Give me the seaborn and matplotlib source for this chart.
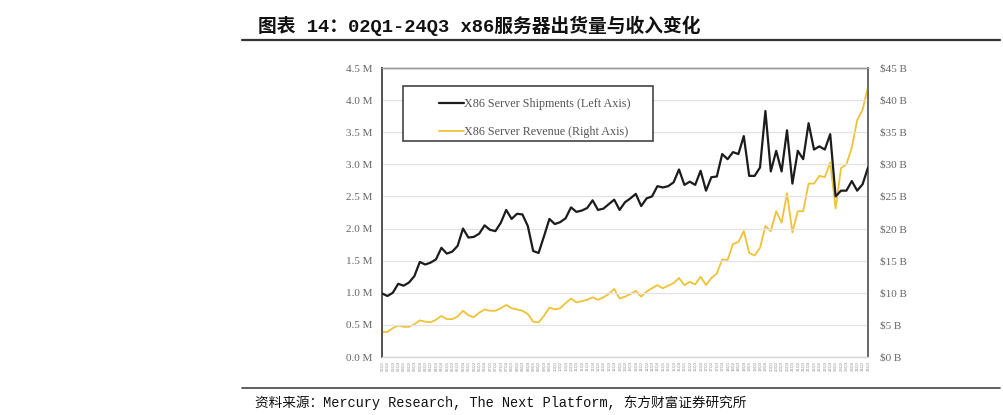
import numpy as np
import pandas as pd
import matplotlib
matplotlib.use("Agg")
import matplotlib.pyplot as plt
from matplotlib.patches import Rectangle
from matplotlib.lines import Line2D
import seaborn as sns

# ---- data ----
quarters = [f"{y:02d}Q{q}" for y in range(2, 25) for q in range(1, 5)][:91]
shipments_m = [0.99, 0.95, 1.00, 1.14, 1.11, 1.16, 1.26, 1.48, 1.44, 1.47,
               1.52, 1.70, 1.61, 1.64, 1.73, 2.00, 1.86, 1.87, 1.92, 2.05,
               1.98, 1.96, 2.09, 2.29, 2.15, 2.23, 2.22, 2.04, 1.65, 1.62,
               1.88, 2.15, 2.07, 2.10, 2.16, 2.33, 2.26, 2.28, 2.32, 2.44,
               2.29, 2.31, 2.38, 2.45, 2.29, 2.41, 2.47, 2.54, 2.35, 2.47,
               2.50, 2.66, 2.64, 2.66, 2.72, 2.92, 2.68, 2.73, 2.68, 2.90,
               2.59, 2.80, 2.81, 3.16, 3.08, 3.19, 3.16, 3.44, 2.82, 2.82,
               2.95, 3.83, 2.89, 3.21, 2.89, 3.53, 2.70, 3.21, 3.08, 3.64,
               3.23, 3.28, 3.23, 3.47, 2.50, 2.59, 2.59, 2.74, 2.59, 2.69,
               2.95]
revenue_b = [3.9, 3.9, 4.5, 4.9, 4.7, 4.7, 5.1, 5.7, 5.5, 5.4,
             5.8, 6.4, 5.9, 5.9, 6.3, 7.2, 6.5, 6.2, 6.9, 7.4,
             7.2, 7.2, 7.6, 8.1, 7.6, 7.4, 7.2, 6.7, 5.5, 5.4,
             6.4, 7.7, 7.4, 7.6, 8.4, 9.1, 8.5, 8.7, 8.9, 9.3,
             8.9, 9.3, 9.8, 10.6, 9.1, 9.4, 9.8, 10.3, 9.4, 10.2,
             10.7, 11.2, 10.7, 11.1, 11.5, 12.3, 11.2, 11.7, 11.3, 12.5,
             11.2, 12.3, 13.0, 15.2, 15.1, 17.6, 17.9, 19.6, 16.2, 15.8,
             17.0, 20.4, 19.6, 22.7, 20.9, 25.5, 19.4, 22.7, 22.7, 27.0,
             27.0, 28.2, 28.0, 30.3, 23.1, 29.4, 30.0, 32.6, 36.9, 38.5,
             42.1]
left_ticks = [0.0, 0.5, 1.0, 1.5, 2.0, 2.5, 3.0, 3.5, 4.0, 4.5]
left_labels = [f"{v:.1f} M" for v in left_ticks]
right_ticks = [0, 5, 10, 15, 20, 25, 30, 35, 40, 45]
right_labels = [f"${v} B" for v in right_ticks]
title = "图表 14：02Q1-24Q3 x86服务器出货量与收入变化"
source = "资料来源：Mercury Research, The Next Platform, 东方财富证券研究所"
series_names = ["X86 Server Shipments (Left Axis)", "X86 Server Revenue (Right Axis)"]

df = pd.DataFrame({"idx": np.arange(len(quarters)), "quarter": quarters,
                   "ship": shipments_m, "rev": revenue_b})

sns.set_style("white")
plt.rcParams["font.family"] = ["Noto Sans CJK SC", "DejaVu Sans"]

BLACK = "#1c1c1c"
GOLD = "#F0C236"
TICKC = "#666666"
serif = "Liberation Serif"
mono_cjk = ["Liberation Mono", "Noto Sans CJK SC"]

fig = plt.figure(figsize=(10.04, 4.15), dpi=100)
ax = fig.add_axes([382/1004, 1-357/415, 486/1004, 289/415])
ax2 = ax.twinx()

sns.lineplot(data=df, x="idx", y="ship", ax=ax, color=BLACK, linewidth=1.6, zorder=3)
sns.lineplot(data=df, x="idx", y="rev", ax=ax2, color=GOLD, linewidth=1.3, zorder=3)

ax.set_xlim(0, len(quarters) - 1)
ax.set_ylim(0, 4.5)
ax2.set_ylim(0, 45)
ax.set_yticks(left_ticks)
ax.set_yticklabels(left_labels, family=serif, fontsize=8, color=TICKC)
ax2.set_yticks(right_ticks)
ax2.set_yticklabels(right_labels, family=serif, fontsize=8, color=TICKC)
ax.set_xticks(df["idx"])
ax.set_xticklabels(quarters, rotation=90, fontsize=2.7, color="#8c8c8c", family="DejaVu Sans")
ax.tick_params(axis="x", length=0, pad=2.5)
ax.tick_params(axis="y", length=0, pad=7)
ax2.tick_params(axis="y", length=0, pad=9)
ax.set_xlabel("")
ax.set_ylabel("")
ax2.set_ylabel("")

ax.grid(axis="y", color="#e2e2e2", linewidth=0.9)
ax.set_axisbelow(True)
for a in (ax, ax2):
    a.spines["left"].set_color("#555555")
    a.spines["left"].set_linewidth(1.3)
    a.spines["right"].set_color("#666666")
    a.spines["right"].set_linewidth(1.2)
    a.spines["top"].set_color("#9a9a9a")
    a.spines["top"].set_linewidth(1.0)
    a.spines["bottom"].set_color("#d5d5d5")
    a.spines["bottom"].set_linewidth(0.9)
ax.set_zorder(ax2.get_zorder() + 1)
ax.patch.set_visible(False)

# legend box
ax.add_patch(Rectangle((0.043, 0.747), 0.515, 0.191, transform=ax.transAxes,
                       fill=True, facecolor="white", edgecolor="#444444",
                       linewidth=1.2, zorder=5))
handles = [Line2D([], [], color=BLACK, linewidth=1.6),
           Line2D([], [], color=GOLD, linewidth=1.3)]
leg = ax.legend(handles, series_names, loc="upper left",
                bbox_to_anchor=(0.104, 0.918), frameon=False, borderpad=0,
                handlelength=2.1, handletextpad=0.0, labelspacing=1.35,
                prop={"family": serif, "size": 8.7})
for t in leg.get_texts():
    t.set_color("#555555")
leg.set_zorder(6)

# title, rules, source
fig.text(258/1004, 1-26/415, title, fontsize=13.5, fontweight="bold",
         family=mono_cjk, color="#111111", va="center", ha="left")
fig.add_artist(Line2D([242/1004, 1000/1004], [1-40/415, 1-40/415],
                      color="#333333", linewidth=1.6))
fig.add_artist(Line2D([242/1004, 1000/1004], [1-388/415, 1-388/415],
                      color="#444444", linewidth=1.2))
fig.text(255/1004, 1-403/415, source, fontsize=9.8, family=mono_cjk,
         color="#111111", va="center", ha="left")

fig.savefig("out.png", dpi=100)
